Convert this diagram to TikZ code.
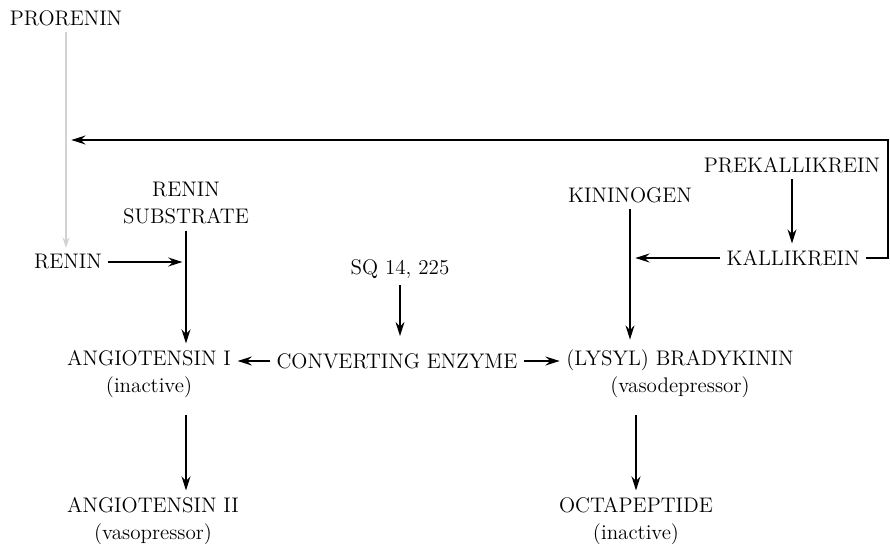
\documentclass[tikz,border=0pt]{standalone}
\usetikzlibrary{positioning, arrows.meta}

\tikzset{
  label/.style={inner sep=3.6pt, align=center, font=\fontsize{12}{15.5}\selectfont},
  arr/.style={line width=1.4pt, -{Stealth[length=8pt, width=5pt]}},
  faint/.style={line width=1.3pt, gray!35, -{Stealth[length=6pt, width=4pt]}}
}

\begin{document}
\begin{tikzpicture}[x=0.02cm, y=-0.02cm]
\useasboundingbox (0,0) rectangle (890,544);

\node[label] (prorenin) at (66,18) {PRORENIN};
\node[label] (substrate) at (186,203) {RENIN\\SUBSTRATE};
\node[label] (renin) at (68,262) {RENIN};
\node[label] (sq) at (400,269) {SQ 14, 225};
\node[label] (ang1) at (149,374) {ANGIOTENSIN I\\(inactive)};
\node[label] (conv) at (397,361) {CONVERTING ENZYME};
\node[label] (brady) at (680,374) {(LYSYL) BRADYKININ\\(vasodepressor)};
\node[label] (kinin) at (630,195) {KININOGEN};
\node[label] (prekall) at (792,165) {PREKALLIKREIN};
\node[label] (kall) at (793,258) {KALLIKREIN};
\node[label] (ang2) at (153,521) {ANGIOTENSIN II\\(vasopressor)};
\node[label] (octa) at (636,521) {OCTAPEPTIDE\\(inactive)};
\coordinate (rt) at (888,140);

% renin side
\draw[faint] (prorenin.south) -- (renin.north -| prorenin.south);
\draw[arr, shorten >=2pt] (renin.east) -- (renin.east -| substrate.south);
\draw[arr] (substrate.south) -- (substrate.south |- ang1.north);
\draw[arr, shorten <=6pt] (substrate.south |- ang1.south) -- (substrate.south |- ang2.north);

% converting enzyme
\draw[arr, shorten >=6pt] (sq.south) -- (sq.south |- conv.north);
\draw[arr] (conv.west) -- (conv.west -| ang1.east);
\draw[arr] (conv.east) -- (conv.east -| brady.west);

% kinin side
\draw[arr, shorten >=2pt] (kinin.south) -- (kinin.south |- brady.north);
\draw[arr] (prekall.south) -- (prekall.south |- kall.north);
\draw[arr, shorten >=3pt] (kall.west) -- (kall.west -| kinin.south);
\draw[arr, shorten >=3pt] (kall.east) -| (rt) -- (rt -| prorenin.south);
\draw[arr, shorten <=6pt] (brady.south -| octa.north) -- (octa.north);
\end{tikzpicture}
\end{document}
